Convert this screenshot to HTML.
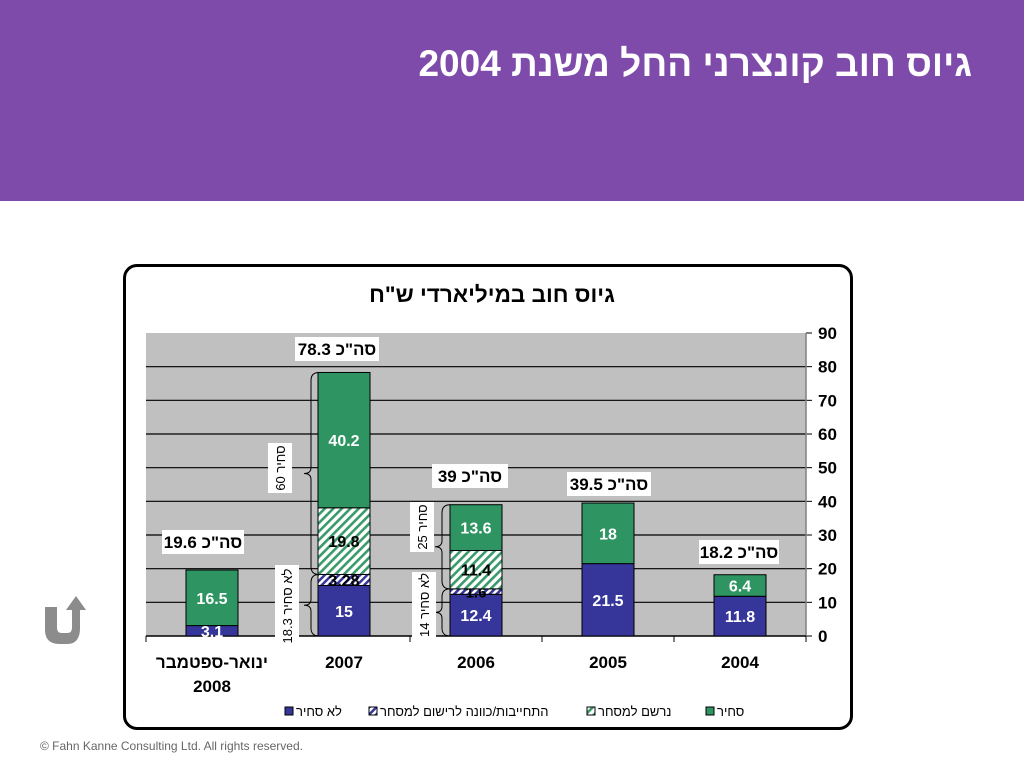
<!DOCTYPE html>
<html><head><meta charset="utf-8"><style>
body{margin:0;width:1024px;height:768px;background:#fff;overflow:hidden;font-family:"Liberation Sans","DejaVu Sans",sans-serif;position:relative}
.hdr{position:absolute;left:0;top:0;width:1024px;height:201px;background:#7f4bab}
.ttl{position:absolute;right:52px;top:43px;color:#fff;font-weight:bold;font-size:37px;direction:rtl}
.foot{position:absolute;left:40px;top:739px;font-size:12px;color:#666}
.box{position:absolute;left:123px;top:264px;width:724px;height:460px;border:3px solid #000;border-radius:14px}
</style></head><body>
<div class="hdr"></div>
<div class="ttl">גיוס חוב קונצרני החל משנת 2004</div>
<div class="box"></div>
<svg style="position:absolute;left:40px;top:590px" width="60" height="60">
<path d="M5 17 H17 V38 Q17 43 22 43 H27 Q32 43 32 38 V20 H26 L36 6 L46 20 H40 V38 Q40 54 27 54 H20 Q5 54 5 40 Z" fill="#8c8c8c"/>
</svg>
<svg id="chart" style="position:absolute;left:0;top:0" width="1024" height="768"></svg>
<div class="foot">© Fahn Kanne Consulting Ltd. All rights reserved.</div>
<script>
const categories=["ינואר-ספטמבר|2008","2007","2006","2005","2004"];
const unlisted=[3.1,15,12.4,21.5,11.8];
const commitment=[0,3.28,1.6,0,0];
const registered=[0,19.8,11.4,0,0];
const listed=[16.5,40.2,13.6,18,6.4];
const totals=["19.6","78.3","39","39.5","18.2"];
const yTicks=[0,10,20,30,40,50,60,70,80,90];
const legendLabels=["סחיר","נרשם למסחר","התחייבות/כוונה לרישום למסחר","לא סחיר"];
const NS="http://www.w3.org/2000/svg";
const svg=document.getElementById('chart');
const X0=146,X1=806,Y0=636,Y1=333,YMAX=90;
const cw=(X1-X0)/categories.length,bw=52;
const y=v=>Y0-(v/YMAX)*(Y0-Y1);
const cx=i=>X0+cw*i+cw/2;
function mk(t,a,p){const e=document.createElementNS(NS,t);for(const k in a)e.setAttribute(k,a[k]);(p||svg).appendChild(e);return e;}
const defs=mk('defs',{});
defs.innerHTML='<pattern id="hg" width="6" height="6" patternUnits="userSpaceOnUse" patternTransform="rotate(45)"><rect width="6" height="6" fill="#fff"/><rect width="2.6" height="6" fill="#3a9a6a"/></pattern><pattern id="hb" width="5" height="5" patternUnits="userSpaceOnUse" patternTransform="rotate(45)"><rect width="5" height="5" fill="#fff"/><rect width="2.5" height="5" fill="#35359a"/></pattern>';
let e=mk('rect',{x:X0,y:Y1,width:X1-X0,height:Y0-Y1,fill:'#c0c0c0'});

yTicks.forEach(t=>{
 if(t>0&&t<90){let g=mk('line',{x1:X0,x2:X1,y1:y(t),y2:y(t),stroke:'#000','stroke-width':1.2});}
 mk('line',{x1:X1,x2:X1+6,y1:y(t),y2:y(t),stroke:'#000'});
 let l=mk('text',{x:818,y:y(t)+6,'font-size':17,'font-weight':'bold'});l.textContent=t;
 
});
mk('line',{x1:X1,x2:X1,y1:Y1,y2:Y0,stroke:'#808080','stroke-width':1.5});
mk('line',{x1:X0,x2:X1,y1:Y0,y2:Y0,stroke:'#000','stroke-width':1.5});
for(let i=0;i<=categories.length;i++)mk('line',{x1:X0+cw*i,x2:X0+cw*i,y1:Y0,y2:Y0+6,stroke:'#000'});
const series=[[unlisted,'#35359a','#fff','bar-unlisted'],[commitment,'url(#hb)','#000','bar-commitment'],[registered,'url(#hg)','#000','bar-registered'],[listed,'#2e9462','#fff','bar-listed']];
categories.forEach((c,i)=>{
 let base=0;
 series.forEach(([arr,fill,tc,nm])=>{
  const v=arr[i];if(!v)return;
  const r=mk('rect',{x:cx(i)-bw/2,y:y(base+v),width:bw,height:y(base)-y(base+v),fill,stroke:'#000','stroke-width':1});
  
  const fs=v<3?15:16;
  const t=mk('text',{x:cx(i),y:(y(base)+y(base+v))/2+6,'text-anchor':'middle','font-size':fs,'font-weight':'bold',fill:tc});
  t.textContent=v;
  base+=v;
 });
 const parts=c.split('|');
 parts.forEach((p,k)=>{const t=mk('text',{x:cx(i),y:668+k*24,'text-anchor':'middle','font-size':17,'font-weight':'bold',direction:'rtl'});t.textContent=p;
 });
});
const totPos=[[162,530,82],[295,337,84],[432,464,76],[567,472,84],[699,540,80]];
totals.forEach((tv,i)=>{
 const [bx,by,w]=totPos[i];
 const r=mk('rect',{x:bx,y:by,width:w,height:24,fill:'#fff'});
 
 const t=mk('text',{x:bx+w/2,y:by+18,'text-anchor':'middle','font-size':17,'font-weight':'bold',direction:'rtl'});
 t.textContent=(i==2?'סה"כ  ':'סה"כ ')+tv;
});
function brace(xx,ya,yb){const m=(ya+yb)/2;mk('path',{d:`M${xx+8} ${ya} Q${xx} ${ya} ${xx} ${ya+8} V${m-6} Q${xx} ${m} ${xx-7} ${m} Q${xx} ${m} ${xx} ${m+6} V${yb-8} Q${xx} ${yb} ${xx+8} ${yb}`,fill:'none',stroke:'#000','stroke-width':1});}
function vlab(bx,by,w,h,txt){const r=mk('rect',{x:bx,y:by,width:w,height:h,fill:'#fff'});
 const t=mk('text',{x:0,y:0,'text-anchor':'middle','font-size':13,direction:'rtl',transform:`translate(${bx+w/2+5},${by+h/2}) rotate(-90)`});t.textContent=txt;}
brace(311,y(unlisted[1]+commitment[1]+registered[1]+listed[1]),y(unlisted[1]+commitment[1]));
brace(311,y(unlisted[1]+commitment[1]),y(0));
brace(442,y(unlisted[2]+commitment[2]+registered[2]+listed[2]),y(unlisted[2]+commitment[2]));
brace(442,y(unlisted[2]+commitment[2]),y(0));
vlab(268,443,24,50,'סחיר 60');
vlab(275,565,24,82,'לא סחיר 18.3');
vlab(410,502,24,50,'סחיר 25');
vlab(412,572,24,66,'לא סחיר 14');
let ct=mk('text',{x:492,y:302,'text-anchor':'middle','font-size':22.5,'font-weight':'bold',direction:'rtl'});ct.textContent='גיוס חוב במיליארדי ש"ח';

const legX=[[706,'#2e9462'],[587,'url(#hg)'],[369,'url(#hb)'],[285,'#35359a']];
legendLabels.forEach((l,i)=>{
 const [lx,f]=legX[i];
 const r=mk('rect',{x:lx,y:707,width:8,height:8,fill:f,stroke:'#000','stroke-width':1});
 
 const t=mk('text',{x:lx+11,y:716,'font-size':13,direction:'ltr'});t.textContent=l;
 
});
</script>
</body></html>
